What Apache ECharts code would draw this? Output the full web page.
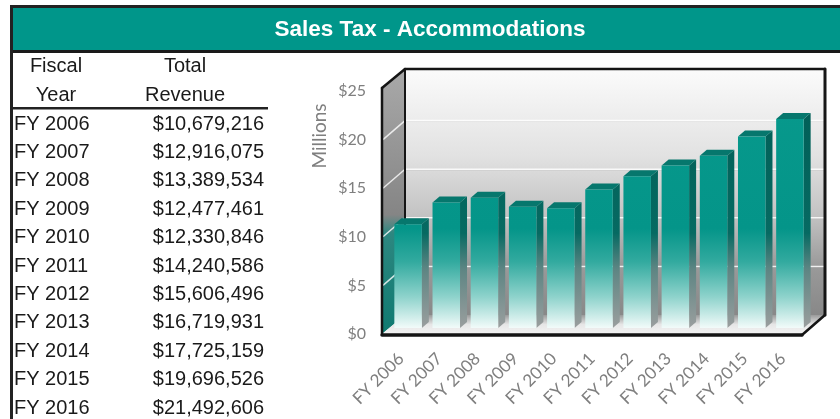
<!DOCTYPE html>
<html><head><meta charset="utf-8">
<script src="https://cdn.jsdelivr.net/npm/echarts@6/dist/echarts.min.js"></script>
<style>html,body{margin:0;padding:0;background:#fff}#c{width:840px;height:419px}</style>
</head><body><div id="c"></div>
<script>
const chartTitle = 'Sales Tax - Accommodations';
const years = ['FY 2006','FY 2007','FY 2008','FY 2009','FY 2010','FY 2011','FY 2012','FY 2013','FY 2014','FY 2015','FY 2016'];
const revenue = [10679216,12916075,13389534,12477461,12330846,14240586,15606496,16719931,17725159,19696526,21492606];
const headerCol1 = ['Fiscal','Year'];
const headerCol2 = ['Total','Revenue'];
const yTicks = [0,5,10,15,20,25];
const axisName = 'Millions';

const millions = revenue.map(v => v / 1e6);
const fmtMoney = n => '$' + n.toLocaleString('en-US');

const DX = 23, DY = -19;      // wall depth
const BX = 7, BY = -6;        // bar front offset into depth
const BDX = 7, BDY = -6;      // bar depth
const yMin = yTicks[0], yMax = yTicks[yTicks.length-1], yStep = yTicks[1]-yTicks[0];

function renderWalls(params, api){
  const cs = params.coordSys;
  const x0 = cs.x, y0 = cs.y - 3, w = cs.width, yb = cs.y + cs.height;
  const kids = [];
  kids.push({type:'rect', shape:{x:x0+DX, y:y0+DY, width:w, height:yb-y0},
    style:{fill:{type:'linear',x:0,y:0,x2:0,y2:1,colorStops:[
      {offset:0,color:'#fbfbfb'},{offset:0.35,color:'#e2e2e2'},{offset:0.6,color:'#c2c2c2'},
      {offset:0.8,color:'#9a9a9a'},{offset:1,color:'#888888'}]}}});
  kids.push({type:'polygon', shape:{points:[[x0,y0],[x0+DX,y0+DY],[x0+DX,yb+DY],[x0,yb]]},
    style:{fill:{type:'linear',x:0,y:0,x2:0,y2:1,colorStops:[
      {offset:0,color:'#a9a9a9'},{offset:0.55,color:'#858585'},{offset:0.62,color:'#2d8780'},
      {offset:1,color:'#0f7a71'}]}}});
  yTicks.forEach(t => {
    if (t === yMin || t === yMax) return;
    const y = api.coord([0,t])[1];
    kids.push({type:'line', shape:{x1:x0+DX, y1:y+DY+1, x2:x0+w+DX, y2:y+DY+1}, style:{stroke:'rgba(0,0,0,0.06)', lineWidth:1}});
    kids.push({type:'line', shape:{x1:x0+DX, y1:y+DY, x2:x0+w+DX, y2:y+DY}, style:{stroke:'rgba(255,255,255,0.85)', lineWidth:1.5}});
    kids.push({type:'line', shape:{x1:x0+1, y1:y, x2:x0+DX, y2:y+DY}, style:{stroke:'rgba(255,255,255,0.8)', lineWidth:1.5}});
  });
  kids.push({type:'polygon', shape:{points:[[x0,yb],[x0+DX,yb+DY],[x0+w+DX,yb+DY],[x0+w,yb]]},
    style:{fill:{type:'linear',x:0,y:0,x2:0,y2:1,colorStops:[{offset:0,color:'#9a9a9a'},{offset:0.5,color:'#e6e6e6'},{offset:1,color:'#f4f4f4'}]}}});
  const edge = {stroke:'#151515', lineWidth:2.5, lineCap:'round'};
  const L = (a,b,c,d,lw) => ({type:'line', shape:{x1:a,y1:b,x2:c,y2:d}, style:Object.assign({}, edge, lw?{lineWidth:lw}:{})});
  kids.push(L(x0+DX,y0+DY,x0+DX,yb+DY,2));
  kids.push(L(x0,y0,x0,yb));
  kids.push(L(x0,y0,x0+DX,y0+DY));
  kids.push(L(x0+DX,y0+DY,x0+w+DX,y0+DY));
  kids.push(L(x0+w+DX,y0+DY,x0+w+DX,yb+DY,3));
  kids.push(L(x0,yb+1,x0+w,yb+1,3.5));
  kids.push(L(x0+w,yb+1,x0+w+DX,yb+DY,2.5));
  return {type:'group', children:kids};
}

function renderBar(params, api){
  const i = api.value(0), v = api.value(1);
  const base = api.coord([i, 0]);
  const top = api.coord([i, v]);
  const topAxis = api.coord([i, yMax])[1];
  const bw = api.size([1, 0])[0] * 0.72;
  const x0 = base[0] - bw/2 + BX, x1 = x0 + bw;
  const yb = base[1] + BY, yt = top[1] + BY;
  const front = {type:'linear', global:true, x:0, y:topAxis, x2:0, y2:yb, colorStops:[
    {offset:0,color:'#07998c'},{offset:0.58,color:'#049589'},{offset:0.72,color:'#32aa9f'},
    {offset:0.87,color:'#8fd3cc'},{offset:1,color:'#f2fbfa'}]};
  const side = {type:'linear', global:true, x:0, y:topAxis, x2:0, y2:yb, colorStops:[
    {offset:0,color:'#005e56'},{offset:0.6,color:'#066a62'},{offset:0.75,color:'#5d8583'},
    {offset:1,color:'#9a9e9e'}]};
  return {type:'group', children:[
    {type:'polygon', shape:{points:[[x1,yt],[x1+BDX,yt+BDY],[x1+BDX,yb+BDY],[x1,yb]]}, style:{fill:side}},
    {type:'polygon', shape:{points:[[x0,yt],[x0+BDX,yt+BDY],[x1+BDX,yt+BDY],[x1,yt]]}, style:{fill:'#06776d'}},
    {type:'rect', shape:{x:x0, y:yt, width:bw, height:yb-yt}, style:{fill:front}}
  ]};
}

const graphics = [
  {type:'rect', shape:{x:13,y:8,width:827,height:42}, style:{fill:'#00968a'}},
  {type:'rect', shape:{x:10,y:5,width:830,height:3}, style:{fill:'#222'}},
  {type:'rect', shape:{x:10,y:50,width:830,height:3}, style:{fill:'#1a1a1a'}},
  {type:'rect', shape:{x:10,y:5,width:3,height:414}, style:{fill:'#222'}},
  {type:'rect', shape:{x:13,y:107,width:255,height:2.5}, style:{fill:'#222'}},
  {type:'text', x:430, y:30, style:{text:chartTitle, fill:'#fff', font:'bold 22.5px "Liberation Sans", Arial, sans-serif', align:'center', verticalAlign:'middle'}},
  {type:'text', x:320, y:136, rotation:Math.PI/2, style:{text:axisName, fill:'#7f7f7f', font:'19px Lato, sans-serif', align:'center', verticalAlign:'middle'}}
];
const tf = '20px "Liberation Sans", Arial, sans-serif';
headerCol1.forEach((t,k) => graphics.push({type:'text', x:56, y:66+29*k, style:{text:t, fill:'#1a1a1a', font:tf, align:'center', verticalAlign:'middle'}}));
headerCol2.forEach((t,k) => graphics.push({type:'text', x:185, y:66+29*k, style:{text:t, fill:'#1a1a1a', font:tf, align:'center', verticalAlign:'middle'}}));
years.forEach((yr,i) => {
  graphics.push({type:'text', x:14, y:124+28.4*i, style:{text:yr, fill:'#1a1a1a', font:tf, align:'left', verticalAlign:'middle'}});
  graphics.push({type:'text', x:264, y:124+28.4*i, style:{text:fmtMoney(revenue[i]), fill:'#1a1a1a', font:tf, align:'right', verticalAlign:'middle'}});
});

const chart = echarts.init(document.getElementById('c'), null, {renderer:'canvas'});
chart.setOption({
  animation:false,
  backgroundColor:'#fff',
  grid:{left:382, right:38, top:91, bottom:85, containLabel:false},
  xAxis:{type:'category', data:years, boundaryGap:true,
    axisLine:{show:false}, axisTick:{show:false}, splitLine:{show:false},
    axisLabel:{interval:0, rotate:45, margin:22, padding:[20,0,0,0], color:'#7f7f7f', fontFamily:'Lato', fontSize:17}},
  yAxis:{type:'value', min:yMin, max:yMax, interval:yStep,
    axisLine:{show:false}, axisTick:{show:false}, splitLine:{show:false},
    axisLabel:{margin:16, color:'#7f7f7f', fontFamily:'Lato', fontSize:16, formatter:v => '$' + v}},
  series:[
    {type:'custom', renderItem:renderWalls, data:[[0,0]], silent:true, z:1, encode:{x:0,y:1}},
    {type:'custom', renderItem:renderBar, data:millions.map((v,i)=>[i,v]), z:2, encode:{x:0,y:1}}
  ],
  graphic:graphics
});
</script></body></html>
